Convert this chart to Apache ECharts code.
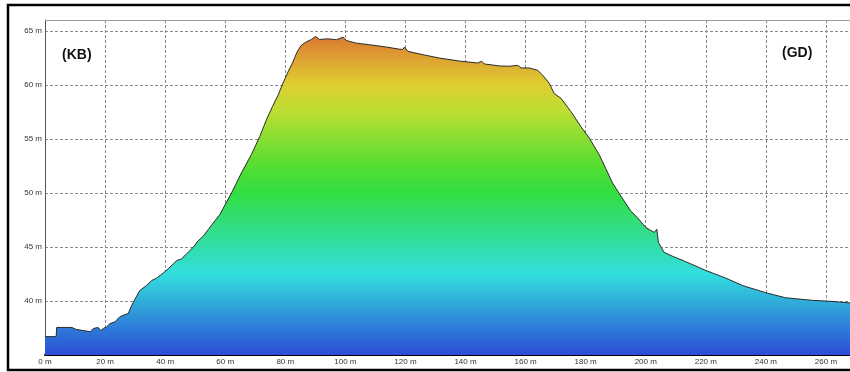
<!DOCTYPE html>
<html>
<head>
<meta charset="utf-8">
<script src="https://cdn.jsdelivr.net/npm/echarts@6/dist/echarts.min.js"></script>
<style>
html,body{margin:0;padding:0;background:#fff;}
#chart{width:850px;height:372px;}
</style>
</head>
<body>
<div id="chart"></div>
<script>
// Distance along profile (m)
const distance = [0, 3.7, 3.9, 8.9, 10.5, 13.3, 15, 16.1, 17.7, 18.6, 19.4, 20.5, 21.6, 23.3, 24.9, 26.6, 27.7, 28.8, 29.9, 31.6, 33.8, 35.5, 37.1, 39.3, 41, 42.7, 43.8, 45.4, 47.1, 49.3, 51, 52.6, 54.3, 58.2, 62.1, 65.4, 68.7, 71.5, 73.7, 75.7, 77.6, 79.2, 80.9, 82.5, 83.9, 85.3, 86.8, 88.7, 90.1, 91.4, 94.2, 97, 99.2, 100.3, 103.6, 108, 113.6, 118, 119.1, 119.7, 120.8, 125.8, 131.3, 138, 144, 145.4, 146.3, 151.3, 154.6, 157.4, 158.5, 161.2, 164, 165.7, 167.9, 169.5, 171.8, 175.1, 178.4, 181.2, 184.5, 186.7, 188.9, 191.7, 195, 197.2, 200, 202.8, 203.7, 204.2, 206.1, 208.9, 213.3, 220, 226.6, 232.2, 240, 246.5, 255.4, 262, 268];
// Elevation (m)
const elevation = [36.7, 36.7, 37.55, 37.55, 37.36, 37.24, 37.15, 37.45, 37.55, 37.27, 37.45, 37.6, 37.9, 38.07, 38.53, 38.74, 38.83, 39.54, 40.15, 40.98, 41.43, 41.89, 42.1, 42.57, 42.97, 43.43, 43.73, 43.89, 44.35, 44.96, 45.57, 45.97, 46.6, 48.0, 50.0, 51.86, 53.54, 55.22, 56.76, 57.98, 59.05, 60.13, 61.2, 62.1, 63.03, 63.65, 63.95, 64.2, 64.48, 64.2, 64.26, 64.17, 64.41, 64.11, 63.86, 63.71, 63.5, 63.3, 63.28, 63.5, 63.1, 62.79, 62.48, 62.2, 62.02, 62.18, 61.93, 61.75, 61.72, 61.8, 61.56, 61.56, 61.35, 60.89, 60.13, 59.2, 58.75, 57.52, 56.14, 55.07, 53.54, 52.25, 50.94, 49.71, 48.33, 47.72, 46.8, 46.34, 46.64, 45.42, 44.5, 44.14, 43.64, 42.82, 42.12, 41.43, 40.76, 40.3, 40.06, 39.96, 39.82];
const xTickStep = 20;
const yTickStep = 5;
const startLabel = '(KB)';
const endLabel = '(GD)';
// colours every 2.5 m from 35 m to 65 m
const elevationColors = ['#2c4cd6', '#2e7cd9', '#30aedb', '#32dede', '#32dea9', '#32de75', '#32de42', '#55de32', '#88de32', '#bcde32', '#decf32', '#dda032', '#db6e32'];

const chart = echarts.init(document.getElementById('chart'), null, {renderer: 'canvas'});
const pts = distance.map((d, i) => [d, elevation[i]]);
const lblFont = {fontFamily: 'Liberation Sans, Arial, sans-serif', fontSize: 8, color: '#333'};

chart.setOption({
  animation: false,
  backgroundColor: '#fff',
  grid: {left: 45, top: 20, width: 806, height: 335, containLabel: false, show: false},
  xAxis: {
    type: 'value', min: 0, max: 268, interval: xTickStep,
    axisLine: {show: true, lineStyle: {color: '#000', width: 2}},
    axisTick: {show: false},
    axisLabel: Object.assign({margin: 3, showMaxLabel: false, formatter: v => (v % xTickStep === 0 ? v + ' m' : '')}, lblFont),
    splitLine: {show: true, lineStyle: {color: '#8a8a8a', type: [3, 2], width: 1}}
  },
  yAxis: {
    type: 'value', min: 35, max: 66, interval: yTickStep,
    axisLine: {show: true, onZero: false, lineStyle: {color: '#555', width: 1}},
    axisTick: {show: false},
    axisLabel: Object.assign({margin: 3, showMinLabel: false, showMaxLabel: false, formatter: v => (v % yTickStep === 0 && v > 35 ? v + ' m' : '')}, lblFont),
    splitLine: {show: true, lineStyle: {color: '#8a8a8a', type: [3, 2], width: 1}}
  },
  visualMap: {
    show: false, type: 'continuous', dimension: 1, seriesIndex: 0,
    min: 35, max: 65, inRange: {color: elevationColors}
  },
  series: [{
    type: 'line', data: pts, showSymbol: false, symbol: 'none',
    lineStyle: {color: '#2a2a2a', width: 1},
    areaStyle: {opacity: 1, origin: 'start'},
    z: 3
  }],
  graphic: [
    {type: 'line', shape: {x1: 45, y1: 20.5, x2: 850, y2: 20.5}, style: {stroke: '#9a9a9a', lineWidth: 1}, z: 10},
    {type: 'rect', shape: {x: 8, y: 5, width: 900, height: 365}, style: {fill: 'none', stroke: '#000', lineWidth: 2.5}, z: 10},
    {type: 'text', left: 62, top: 48, style: {text: startLabel, font: 'bold 14px Liberation Sans, Arial, sans-serif', fill: '#111'}, z: 10},
    {type: 'text', left: 782, top: 46, style: {text: endLabel, font: 'bold 14px Liberation Sans, Arial, sans-serif', fill: '#111'}, z: 10}
  ]
});
</script>
</body>
</html>
